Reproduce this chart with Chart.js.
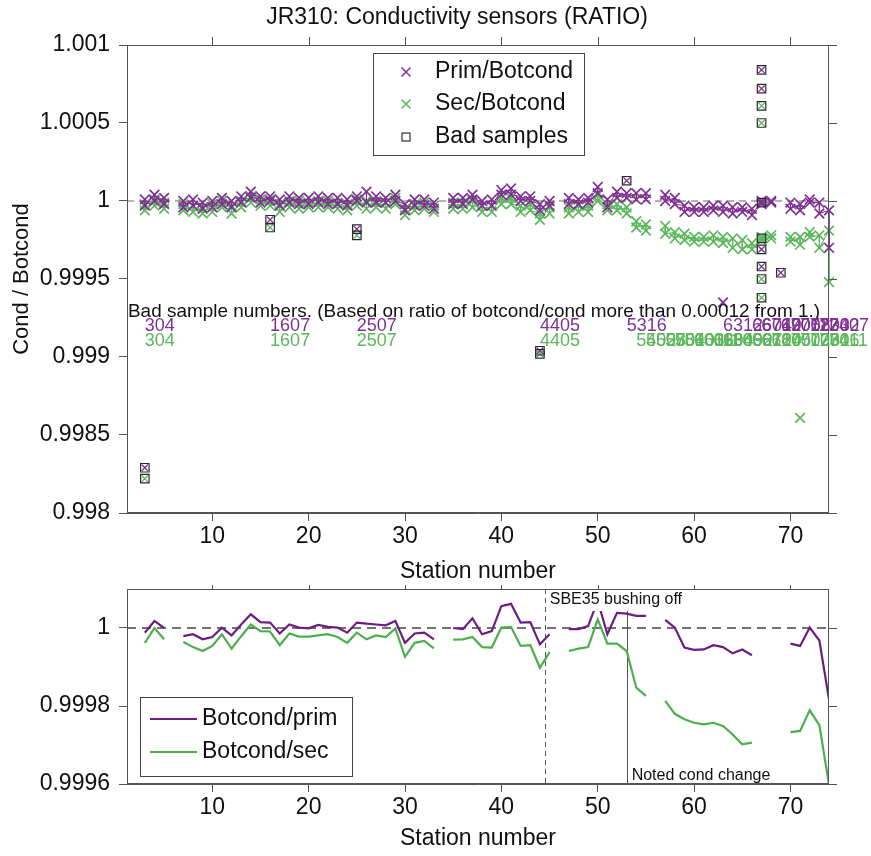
<!DOCTYPE html>
<html>
<head>
<meta charset="utf-8">
<title>JR310 conductivity ratio</title>
<script src="https://cdn.jsdelivr.net/npm/chart.js@4.4.0/dist/chart.umd.min.js"></script>
<style>
  html, body { margin: 0; padding: 0; background: #fff; }
  #wrap { position: relative; width: 871px; height: 856px; }
  .panel { position: absolute; left: 0; }
</style>
</head>
<body>
<div id="wrap">
  <div class="panel" style="top:0"><canvas id="ratioChart" width="871" height="585"></canvas></div>
  <div class="panel" style="top:585px"><canvas id="meanChart" width="871" height="271"></canvas></div>
</div>
<script>
// ---- data ----
const chartTitle = 'JR310: Conductivity sensors (RATIO)';
const xTicks = [10, 20, 30, 40, 50, 60, 70];
const topYTicks = [0.998, 0.9985, 0.999, 0.9995, 1, 1.0005, 1.001];
const botYTicks = [0.9996, 0.9998, 1];

// top panel: upper / lower sample of each station
const topStations = [3, 4, 5,
  7, 8, 9, 10, 11, 12, 13, 14, 15, 16, 17, 18, 19, 20, 21, 22, 23, 24, 25, 26, 27, 28, 29, 30, 31, 32, 33,
  35, 36, 37, 38, 39, 40, 41, 42, 43, 44, 45,
  47, 48, 49, 50, 51, 52, 53, 54, 55,
  57, 58, 59, 60, 61, 62, 63, 64, 65, 66, 67, 68,
  70, 71, 72, 73, 74];
const primHi = [1.00001, 1.00004, 1.00002,
  1.00000, 1.00001, 0.99999, 1.00000, 1.00002, 1.00000, 1.00003, 1.00006, 1.00003, 1.00003, 1.00001, 1.00003, 1.00002, 1.00002, 1.00003, 1.00002, 1.00002, 1.00001, 1.00003, 1.00006, 1.00003, 1.00002, 1.00004, 0.99998, 1.00001, 1.00001, 0.99999,
  1.00002, 1.00002, 1.00004, 1.00000, 1.00001, 1.00007, 1.00008, 1.00003, 1.00003, 0.99998, 1.00000,
  1.00002, 1.00001, 1.00002, 1.00009, 1.00001, 1.00006, 1.00005, 1.00005, 1.00005,
  1.00004, 1.00002, 0.99997, 0.99996, 0.99996, 0.99997, 0.99997, 0.99996, 0.99996, 0.99995, 1.00000, 1.00000,
  0.99999, 0.99998, 1.00001, 0.99999, 0.99994];
const primLo = [0.99997, 1.00000, 0.99998,
  0.99996, 0.99997, 0.99995, 0.99996, 0.99998, 0.99996, 0.99999, 1.00002, 0.99999, 1.00000, 0.99997, 0.99999, 0.99998, 0.99998, 0.99999, 0.99998, 0.99998, 0.99997, 1.00000, 0.99999, 0.99999, 0.99999, 1.00000, 0.99994, 0.99997, 0.99997, 0.99995,
  0.99998, 0.99998, 1.00001, 0.99997, 0.99997, 1.00004, 1.00004, 1.00000, 1.00000, 0.99994, 0.99997,
  0.99998, 0.99998, 0.99999, 1.00005, 0.99996, 1.00002, 1.00002, 1.00001, 1.00001,
  1.00000, 0.99998, 0.99993, 0.99993, 0.99993, 0.99994, 0.99993, 0.99992, 0.99993, 0.99991, 0.99998, 0.99999,
  0.99995, 0.99994, 0.99999, 0.99992, 0.99970];
const secHi = [0.99998, 1.00001, 0.99999,
  0.99998, 0.99997, 0.99996, 0.99998, 1.00000, 0.99997, 1.00000, 1.00003, 1.00001, 1.00001, 0.99998, 1.00000, 1.00000, 0.99999, 1.00000, 1.00000, 0.99999, 0.99998, 1.00001, 1.00000, 1.00000, 0.99999, 1.00002, 0.99995, 0.99998, 0.99999, 0.99997,
  0.99999, 0.99999, 1.00000, 0.99997, 0.99997, 1.00002, 1.00002, 0.99997, 0.99998, 0.99992, 0.99996,
  0.99996, 0.99997, 0.99997, 1.00004, 0.99998, 0.99998, 0.99996, 0.99987, 0.99985,
  0.99984, 0.99980, 0.99979, 0.99977, 0.99977, 0.99978, 0.99977, 0.99976, 0.99975, 0.99973, 0.99977, 0.99978,
  0.99977, 0.99977, 0.99980, 0.99978, 0.99981];
const secLo = [0.99994, 0.99997, 0.99995,
  0.99994, 0.99993, 0.99992, 0.99993, 0.99996, 0.99992, 0.99996, 0.99999, 0.99997, 0.99997, 0.99993, 0.99996, 0.99995, 0.99996, 0.99996, 0.99996, 0.99995, 0.99994, 0.99997, 0.99995, 0.99996, 0.99995, 0.99998, 0.99991, 0.99994, 0.99995, 0.99993,
  0.99995, 0.99995, 0.99996, 0.99993, 0.99993, 0.99998, 0.99998, 0.99993, 0.99994, 0.99988, 0.99992,
  0.99992, 0.99993, 0.99993, 1.00000, 0.99994, 0.99994, 0.99992, 0.99983, 0.99981,
  0.99979, 0.99976, 0.99975, 0.99974, 0.99974, 0.99974, 0.99973, 0.99970, 0.99969, 0.99969, 0.99975, 0.99976,
  0.99974, 0.99972, 0.99977, 0.99970, 0.99948];
const primOutStations = [63];
const primOutValues = [0.99935];
const secOutStations = [71];
const secOutValues = [0.99861];

// bad samples (boxed)
const badPrimStations = [3, 16, 25, 44, 53, 67, 67, 67, 67, 67, 69];
const badPrimValues = [0.99829, 0.99988, 0.99982, 0.99904, 1.00013, 1.00084, 1.00072, 0.99999, 0.99969, 0.99958, 0.99954];
const badSecStations = [3, 16, 25, 44, 67, 67, 67, 67, 67];
const badSecValues = [0.99822, 0.99983, 0.99978, 0.99902, 1.00061, 1.00050, 0.99976, 0.99950, 0.99938];
const badPrimLabels = ['304', '1607', '2507', '4405', '5316', '6312', '6604', '6710', '6712', '6905', '7008', '7112', '7203', '7302', '7407'];
const badPrimLabelStations = [3, 16, 25, 44, 53, 63, 66, 67, 67, 69, 70, 71, 72, 73, 74];
const badSecLabels = ['304', '1607', '2507', '4405', '5402', '5508', '5704', '5810', '5903', '6006', '6111', '6204', '6309', '6402', '6507', '6612', '6704', '6710', '6805', '7002', '7108', '7201', '7306', '7411'];
const badSecLabelStations = [3, 16, 25, 44, 54, 55, 57, 58, 59, 60, 61, 62, 63, 64, 65, 66, 67, 67, 68, 70, 71, 72, 73, 74];

// bottom panel: station means
const botStations = [3, 4, 5, 6, 7, 8, 9, 10, 11, 12, 13, 14, 15, 16, 17, 18, 19, 20, 21, 22, 23, 24, 25, 26, 27, 28, 29, 30, 31, 32, 33, 34,
  35, 36, 37, 38, 39, 40, 41, 42, 43, 44, 45, 46, 47, 48, 49, 50, 51, 52, 53, 54, 55, 56,
  57, 58, 59, 60, 61, 62, 63, 64, 65, 66, 67, 68, 69, 70, 71, 72, 73, 74];
const botPrim = [0.999988, 1.000018, 1.000000, null,
  0.999979, 0.999984, 0.999971, 0.999977, 1.000001, 0.999981, 1.000009, 1.000035, 1.000015, 1.000014, 0.999986, 1.000009, 1.000001, 0.999999, 1.000008, 1.000003, 1.000001, 0.999988, 1.000014, 1.000011, 1.000009, 1.000007, 1.000018, 0.999962, 0.999986, 0.999988, 0.999971, null,
  1.000000, 0.999997, 1.000025, 0.999984, 0.999992, 1.000056, 1.000062, 1.000014, 1.000015, 0.999958, 0.999984, null,
  0.999997, 0.999997, 1.000005, 1.000070, 0.999984, 1.000039, 1.000037, 1.000031, 1.000031, null,
  1.000021, 1.000001, 0.999950, 0.999944, 0.999945, 0.999956, 0.999951, 0.999935, 0.999945, 0.999930, null, null, null,
  0.999960, 0.999954, 1.000001, 0.999968, 0.999817];
const botSec = [0.999962, 1.000000, 0.999971, null,
  0.999964, 0.999951, 0.999941, 0.999954, 0.999984, 0.999947, 0.999979, 1.000009, 0.999992, 0.999991, 0.999956, 0.999986, 0.999978, 0.999978, 0.999981, 0.999984, 0.999977, 0.999962, 0.999988, 0.999971, 0.999981, 0.999977, 0.999999, 0.999926, 0.999962, 0.999967, 0.999948, null,
  0.999970, 0.999971, 0.999977, 0.999951, 0.999950, 1.000001, 1.000003, 0.999954, 0.999956, 0.999898, 0.999938, null,
  0.999941, 0.999947, 0.999951, 1.000022, 0.999960, 0.999960, 0.999941, 0.999847, 0.999826, null,
  0.999813, 0.999780, 0.999766, 0.999757, 0.999753, 0.999757, 0.999749, 0.999727, 0.999702, 0.999706, null, null, null,
  0.999733, 0.999736, 0.999789, 0.999751, 0.999599];
const bushingOffStation = 44.5;
const condChangeStation = 53;

// ---- styling ----
const PURPLE = '#7e3192';
const GREEN = '#5cb65c';
const LINE_PURPLE = '#6b1e80';
const LINE_GREEN = '#4cae4c';
const AXIS = '#555';
const FONT = '"Liberation Sans", Arial, Helvetica, sans-serif';
const X_MIN = 1.15, X_MAX = 74;

function fmt(v) { return String(parseFloat(v.toFixed(4))); }

function pairs(xs, ys) { return xs.map((x, i) => ({ x: x, y: ys[i] })); }

// zig-zag through the upper and lower sample of every station, break at missing stations
function spreadPoints(hi, lo) {
  const pts = [];
  topStations.forEach((s, i) => {
    if (i > 0 && s - topStations[i - 1] > 1) pts.push({ x: s - 0.5, y: null });
    pts.push({ x: s, y: hi[i] }, { x: s, y: lo[i] });
  });
  return pts;
}

function drawFrame(chart, len) {
  const { ctx, chartArea: a, scales: { x, y } } = chart;
  ctx.save();
  ctx.strokeStyle = AXIS;
  ctx.lineWidth = 1;
  ctx.strokeRect(a.left + 0.5, a.top + 0.5, a.right - a.left - 1, a.bottom - a.top - 1);
  ctx.beginPath();
  x.ticks.forEach(t => {
    const px = Math.round(x.getPixelForValue(t.value)) + 0.5;
    ctx.moveTo(px, a.top); ctx.lineTo(px, a.top - len);
  });
  y.ticks.forEach(t => {
    const py = Math.round(y.getPixelForValue(t.value)) + 0.5;
    ctx.moveTo(a.right, py); ctx.lineTo(a.right + len, py);
  });
  ctx.stroke();
  ctx.restore();
}

function hLine(chart, value, color, dash, width) {
  const { ctx, chartArea: a, scales: { y } } = chart;
  const py = y.getPixelForValue(value);
  ctx.save();
  ctx.strokeStyle = color; ctx.lineWidth = width; ctx.setLineDash(dash);
  ctx.beginPath(); ctx.moveTo(a.left, py); ctx.lineTo(a.right, py); ctx.stroke();
  ctx.restore();
}

function cross(ctx, cx, cy, r, color) {
  ctx.strokeStyle = color; ctx.lineWidth = 1.5;
  ctx.beginPath();
  ctx.moveTo(cx - r, cy - r); ctx.lineTo(cx + r, cy + r);
  ctx.moveTo(cx + r, cy - r); ctx.lineTo(cx - r, cy + r);
  ctx.stroke();
}

const ratioDecor = {
  id: 'ratioDecor',
  beforeDatasetsDraw(chart) {
    hLine(chart, 1, '#9a9a9a', [7, 5], 1.5);
  },
  afterDatasetsDraw(chart) {
    const { ctx, scales: { x, y } } = chart;
    drawFrame(chart, 8);
    ctx.save();
    // title
    ctx.fillStyle = '#111';
    ctx.font = '23px ' + FONT;
    ctx.textAlign = 'center'; ctx.textBaseline = 'middle';
    ctx.fillText(chartTitle, 457, 18);
    // bad sample annotation
    ctx.textAlign = 'left';
    ctx.font = '19px ' + FONT;
    ctx.fillText('Bad sample numbers. (Based on ratio of botcond/cond more than 0.00012 from 1.)',
      x.getPixelForValue(X_MIN) + 1, y.getPixelForValue(0.99929), 692);
    ctx.font = '18px ' + FONT;
    ctx.fillStyle = PURPLE;
    badPrimLabels.forEach((t, i) => ctx.fillText(t, x.getPixelForValue(badPrimLabelStations[i]), y.getPixelForValue(0.99920)));
    ctx.fillStyle = GREEN;
    badSecLabels.forEach((t, i) => ctx.fillText(t, x.getPixelForValue(badSecLabelStations[i]), y.getPixelForValue(0.99910)));
    // legend
    ctx.fillStyle = '#fff';
    ctx.fillRect(373, 53, 211, 102);
    ctx.strokeStyle = '#444'; ctx.lineWidth = 1;
    ctx.strokeRect(373.5, 53.5, 211, 102);
    cross(ctx, 406, 72, 4.5, PURPLE);
    cross(ctx, 406, 104, 4.5, GREEN);
    ctx.strokeStyle = '#333'; ctx.lineWidth = 1.2;
    ctx.strokeRect(402, 133, 8, 8);
    ctx.fillStyle = '#111';
    ctx.font = '23px ' + FONT;
    ctx.fillText('Prim/Botcond', 435, 72);
    ctx.fillText('Sec/Botcond', 435, 104);
    ctx.fillText('Bad samples', 435, 137);
    ctx.restore();
  }
};

const meanDecor = {
  id: 'meanDecor',
  beforeDatasetsDraw(chart) {
    const { ctx, chartArea: a, scales: { x } } = chart;
    hLine(chart, 1, '#444', [9, 6], 1.5);
    ctx.save();
    ctx.strokeStyle = '#555'; ctx.lineWidth = 1;
    let px = Math.round(x.getPixelForValue(bushingOffStation)) + 0.5;
    ctx.setLineDash([5, 4]);
    ctx.beginPath(); ctx.moveTo(px, a.top); ctx.lineTo(px, a.bottom); ctx.stroke();
    px = Math.round(x.getPixelForValue(condChangeStation)) + 0.5;
    ctx.setLineDash([]);
    ctx.beginPath(); ctx.moveTo(px, a.top); ctx.lineTo(px, a.bottom); ctx.stroke();
    ctx.restore();
  },
  afterDatasetsDraw(chart) {
    const { ctx, chartArea: a, scales: { x } } = chart;
    ctx.save();
    const bx = x.getPixelForValue(bushingOffStation) + 2;
    ctx.font = '16px ' + FONT;
    ctx.fillStyle = '#fff';
    ctx.fillRect(bx, a.top + 1, ctx.measureText('SBE35 bushing off').width + 8, 21);
    ctx.fillStyle = '#111';
    ctx.textAlign = 'left'; ctx.textBaseline = 'middle';
    ctx.fillText('SBE35 bushing off', bx + 3, a.top + 11);
    ctx.fillText('Noted cond change', x.getPixelForValue(condChangeStation) + 5, a.bottom - 8);
    drawFrame(chart, 8);
    // legend
    ctx.fillStyle = '#fff';
    ctx.fillRect(140, 112, 212, 79);
    ctx.strokeStyle = '#444'; ctx.lineWidth = 1;
    ctx.strokeRect(140.5, 112.5, 212, 79);
    ctx.lineWidth = 2;
    ctx.strokeStyle = LINE_PURPLE;
    ctx.beginPath(); ctx.moveTo(150, 134); ctx.lineTo(197, 134); ctx.stroke();
    ctx.strokeStyle = LINE_GREEN;
    ctx.beginPath(); ctx.moveTo(150, 167); ctx.lineTo(197, 167); ctx.stroke();
    ctx.fillStyle = '#111';
    ctx.font = '23px ' + FONT;
    ctx.fillText('Botcond/prim', 202, 134);
    ctx.fillText('Botcond/sec', 202, 167);
    ctx.restore();
  }
};

function xScale(titlePadBottom) {
  return {
    type: 'linear', min: X_MIN, max: X_MAX,
    afterBuildTicks: s => { s.ticks = xTicks.map(v => ({ value: v })); },
    afterFit: s => { s.height = 72; s.paddingLeft = 0; s.paddingRight = 0; },
    grid: { drawOnChartArea: false, tickLength: 8, color: AXIS },
    border: { color: AXIS },
    ticks: { font: { size: 23, family: FONT }, color: '#111', padding: 2, maxRotation: 0 },
    title: { display: true, text: 'Station number', color: '#111', font: { size: 23, family: FONT },
             padding: { top: 0, bottom: titlePadBottom } }
  };
}

function yScale(min, max, tickVals, title) {
  return {
    type: 'linear', min: min, max: max,
    afterBuildTicks: s => { s.ticks = tickVals.map(v => ({ value: v })); },
    afterFit: s => { s.width = 127; s.paddingTop = 0; s.paddingBottom = 0; },
    grid: { drawOnChartArea: false, tickLength: 8, color: AXIS },
    border: { color: AXIS },
    ticks: { font: { size: 23, family: FONT }, color: '#111', padding: 9, callback: v => fmt(v) },
    title: { display: !!title, text: title || '', color: '#111', font: { size: 22, family: FONT },
             padding: { top: 9, bottom: 0 } }
  };
}

const crossPts = { pointStyle: 'crossRot', pointRadius: 6.8, pointBorderWidth: 1.7, pointHoverRadius: 6.8 };

new Chart(document.getElementById('ratioChart'), {
  type: 'scatter',
  data: {
    datasets: [
      { label: 'Bad samples', data: pairs(badPrimStations, badPrimValues).concat(pairs(badSecStations, badSecValues)),
        pointStyle: 'rect', pointRadius: 6, pointBorderWidth: 1.2, borderColor: '#2a2a2a',
        backgroundColor: 'rgba(0,0,0,0)', clip: 10 },
      { label: 'bad prim', data: pairs(badPrimStations, badPrimValues), pointStyle: 'crossRot', pointRadius: 4.5,
        pointBorderWidth: 1.3, borderColor: PURPLE, backgroundColor: PURPLE, clip: 10 },
      { label: 'bad sec', data: pairs(badSecStations, badSecValues), pointStyle: 'crossRot', pointRadius: 4.5,
        pointBorderWidth: 1.3, borderColor: GREEN, backgroundColor: GREEN, clip: 10 },
      Object.assign({ label: 'Prim/Botcond', data: spreadPoints(primHi, primLo), showLine: true, borderWidth: 1,
        borderColor: PURPLE, backgroundColor: PURPLE, spanGaps: false, clip: 10 }, crossPts),
      Object.assign({ label: 'Sec/Botcond', data: spreadPoints(secHi, secLo), showLine: true, borderWidth: 1,
        borderColor: GREEN, backgroundColor: GREEN, spanGaps: false, clip: 10 }, crossPts),
      Object.assign({ label: 'prim outliers', data: pairs(primOutStations, primOutValues),
        borderColor: PURPLE, backgroundColor: PURPLE, clip: 10 }, crossPts),
      Object.assign({ label: 'sec outliers', data: pairs(secOutStations, secOutValues),
        borderColor: GREEN, backgroundColor: GREEN, clip: 10 }, crossPts)
    ]
  },
  options: {
    responsive: false, animation: false, events: [],
    layout: { padding: { left: 0, right: 42, top: 45, bottom: 0 } },
    plugins: { legend: { display: false }, tooltip: { enabled: false } },
    scales: {
      x: xScale(0),
      y: yScale(0.998, 1.001, topYTicks, 'Cond / Botcond')
    }
  },
  plugins: [ratioDecor]
});

new Chart(document.getElementById('meanChart'), {
  type: 'scatter',
  data: {
    datasets: [
      { label: 'Botcond/prim', data: pairs(botStations, botPrim), showLine: true, pointRadius: 0,
        borderColor: LINE_PURPLE, borderWidth: 2.2, spanGaps: false },
      { label: 'Botcond/sec', data: pairs(botStations, botSec), showLine: true, pointRadius: 0,
        borderColor: LINE_GREEN, borderWidth: 2.2, spanGaps: false }
    ]
  },
  options: {
    responsive: false, animation: false, events: [],
    layout: { padding: { left: 0, right: 42, top: 4, bottom: 0 } },
    plugins: { legend: { display: false }, tooltip: { enabled: false } },
    scales: {
      x: xScale(4),
      y: yScale(0.9996, 1.0001, botYTicks, '')
    }
  },
  plugins: [meanDecor]
});
</script>
</body>
</html>
